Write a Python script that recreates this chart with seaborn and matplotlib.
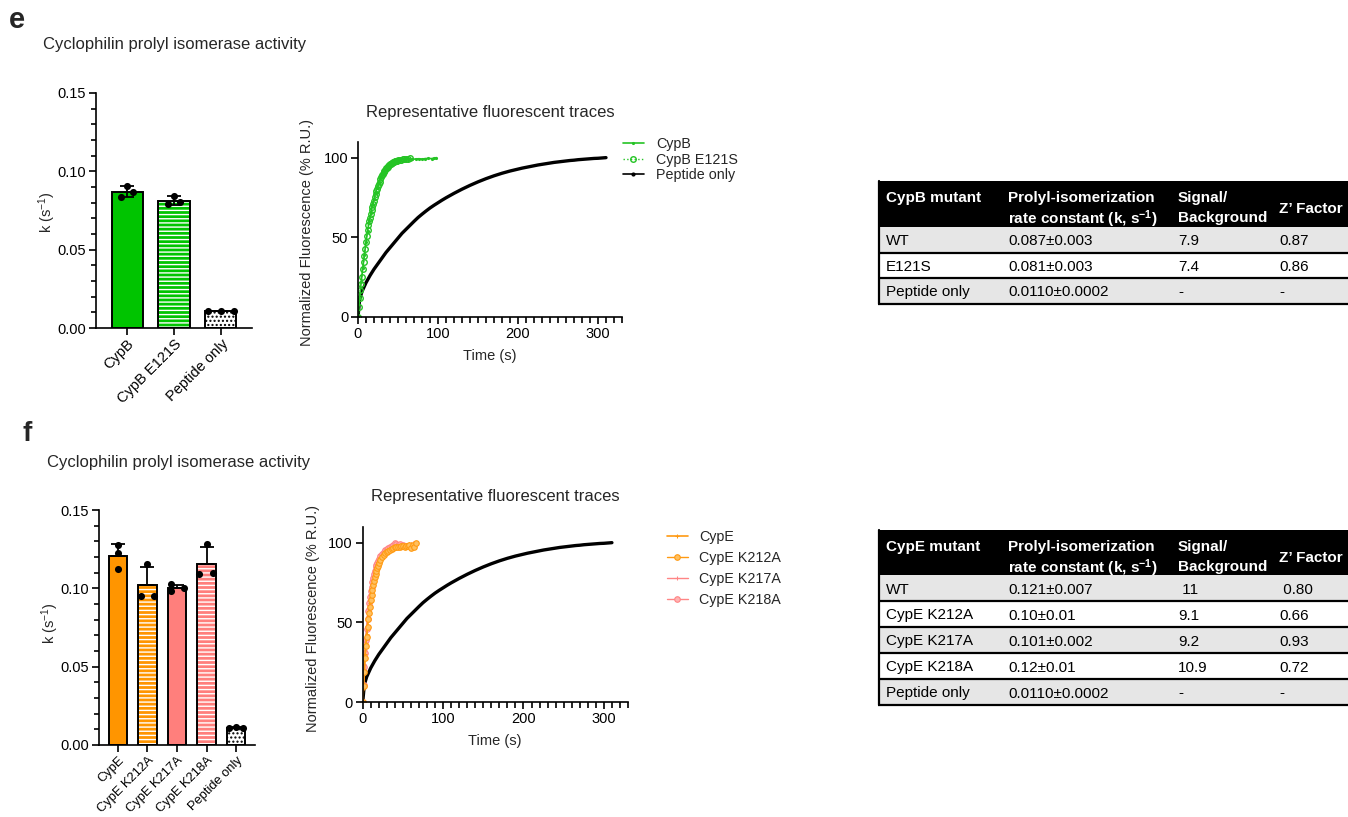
#cyclophilin activity figure, panels e and f
import numpy as np
import matplotlib
matplotlib.use('Agg')
import matplotlib.pyplot as plt
from matplotlib.ticker import MultipleLocator, FormatStrFormatter
from matplotlib.patches import Rectangle
import seaborn as sns

W, H = 1348, 817

# ---------------- data section ----------------
# panel e bars (k, s-1), three replicates each
e_cats = ['CypB', 'CypB E121S', 'Peptide only']
e_points = [[0.0838, 0.0906, 0.0866],
            [0.0791, 0.0843, 0.0804],
            [0.0108, 0.0111, 0.0110]]

# panel f bars
f_cats = ['CypE', 'CypE K212A', 'CypE K217A', 'CypE K218A', 'Peptide only']
f_points = [[0.1277, 0.1223, 0.1125],
            [0.0953, 0.1153, 0.0953],
            [0.1025, 0.0986, 0.0999],
            [0.1091, 0.1283, 0.1096],
            [0.0110, 0.0112, 0.0110]]

# fluorescent traces (time s, % R.U.)
pep_t = [0, 2, 5, 10, 15, 20, 25, 30, 35, 40,
         45, 50, 55, 60, 65, 70, 75, 80, 85, 90,
         95, 100, 105, 110, 115, 120, 125, 130, 135, 140,
         145, 150, 155, 160, 165, 170, 175, 180, 185, 190,
         195, 200, 205, 210, 215, 220, 225, 230, 235, 240,
         245, 250, 255, 260, 265, 270, 275, 280, 285, 290,
         295, 300, 305, 310]
pep_v = [0, 11, 16, 21.5, 26, 30, 33.5, 37, 40.5, 43.5,
         46.5, 49.5, 52.5, 55, 57.5, 60, 62.4, 64.5, 66.5, 68.4,
         70.1, 71.7, 73.3, 74.8, 76.2, 77.6, 78.9, 80.2, 81.4, 82.6,
         83.7, 84.8, 85.8, 86.8, 87.7, 88.6, 89.4, 90.2, 90.9, 91.6,
         92.2, 92.8, 93.4, 93.9, 94.4, 94.9, 95.4, 95.8, 96.2, 96.6,
         97, 97.3, 97.6, 97.9, 98.2, 98.4, 98.7, 98.9, 99.1, 99.3,
         99.5, 99.6, 99.8, 100]

cypb_t = [0, 2, 4, 6, 8, 10, 12, 14, 16, 18,
          20, 22, 24, 26, 28, 30, 33, 36, 40, 44,
          48, 52, 56, 60, 64, 68, 72, 76, 80, 84,
          88, 92, 95, 98]
cypb_v = [0, 12, 22, 31, 39, 47, 54, 60, 65, 70,
          74, 78, 81, 84, 87, 89, 91.5, 93.5, 95.5, 97,
          98, 98.6, 98.9, 99, 99.1, 98.9, 99.2, 99.3, 99.1, 99.4,
          99.5, 99.4, 99.7, 100]

e121s_t = [0, 1, 2, 3, 4, 5, 6, 7, 8, 9,
           10, 11, 12, 13, 14, 15, 16, 17, 18, 19,
           20, 21, 22, 23, 24, 25, 26, 27, 28, 29,
           30, 31, 32, 33, 34, 35, 36, 37, 38, 39,
           40, 41, 42, 43, 44, 45, 46, 47, 48, 49,
           50, 52, 54, 56, 58, 60, 62, 65]
e121s_v = [0, 6, 12, 17, 21, 25, 30, 34.5, 38.5, 42.5,
           47, 51, 54.5, 57.5, 60, 62, 64.5, 67, 69, 71,
           73, 75, 77, 79, 80.5, 82, 83.5, 85, 86.5, 87.8,
           89, 90, 91, 91.8, 92.5, 93.2, 93.8, 94.4, 94.9, 95.4,
           95.8, 96.2, 96.5, 96.8, 97.1, 97.4, 97.6, 97.8, 98, 98.2,
           98.3, 98.6, 98.8, 99, 99.1, 99.2, 99.3, 100]

cype_t = [0, 1, 2, 3, 4, 5, 6, 7, 8, 9,
          10, 11, 12, 13, 14, 15, 16, 17, 18, 19,
          20, 22, 24, 26, 28, 30, 33, 36, 39, 42,
          45, 48, 51, 54, 57, 60, 63, 66]
cype_v = [0, 9, 20, 30, 37, 43, 48, 53, 57.5, 62,
          66, 69.5, 73, 76, 78.5, 81, 83, 85, 86.5, 88,
          89.2, 91, 92.5, 93.7, 94.6, 95.3, 96.2, 96.8, 97.3, 97.7,
          98, 98.3, 98.5, 98.7, 98.9, 99.1, 99.4, 100]

k212a_t = [0, 1, 2, 3, 4, 5, 6, 7, 8, 9,
           10, 11, 12, 13, 14, 15, 16, 17, 18, 19,
           20, 22, 24, 26, 28, 30, 32, 34, 36, 38,
           40, 42, 44, 46, 48, 50, 52, 54, 56, 58,
           60, 62, 64, 66]
k212a_v = [0, 10, 19, 28, 35, 41, 47, 52, 56, 60,
           64, 67, 70.5, 73.5, 76, 78.5, 80.5, 82.5, 84, 85.5,
           87, 89, 91, 92.3, 93.5, 94.3, 95, 95.7, 96.2, 96.6,
           97, 97.2, 97.5, 97.3, 97.8, 98, 97.4, 98.2, 97.6, 98.5,
           96.8, 98.3, 97.5, 99.5]

k217a_t = [0, 1, 2, 3, 4, 5, 6, 7, 8, 9,
           10, 11, 12, 13, 14, 15, 16, 17, 18, 20,
           22, 24, 26, 28, 30, 33, 36, 39, 42, 45,
           48, 51, 54, 57, 60, 63]
k217a_v = [0, 12, 24, 33, 41, 48, 54, 59, 64, 68,
           71.5, 74.5, 77, 79.5, 81.5, 83.5, 85, 86.5, 88, 90,
           91.5, 92.8, 93.8, 94.6, 95.3, 96, 96.6, 97.1, 97.5, 97.8,
           98.1, 98.4, 98.6, 98.9, 99.2, 99.5]

k218a_t = [0, 1, 2, 3, 4, 5, 6, 7, 8, 9,
           10, 11, 12, 13, 14, 15, 16, 17, 18, 19,
           20, 22, 24, 26, 28, 30, 32, 34, 36, 38,
           40, 42, 44, 46, 48, 50]
k218a_v = [0, 11, 22, 31, 39, 46, 52, 57.5, 62, 66,
           69.5, 72.5, 75.5, 78, 80.5, 82.5, 84.5, 86, 87.5, 88.8,
           90, 91.8, 93.2, 94.3, 95.2, 96, 96.8, 97.5, 98.2, 98.8,
           99.8, 99, 98.5, 98.9, 98.2, 98.6]

# tables
e_head1 = ['CypB mutant', 'Prolyl-isomerization', 'Signal/', 'Z\u2019 Factor']
e_head2 = ['', 'rate constant (k, s$^{-1}$)', 'Background', '']
e_rows = [['WT', '0.087\u00b10.003', '7.9', '0.87'],
          ['E121S', '0.081\u00b10.003', '7.4', '0.86'],
          ['Peptide only', '0.0110\u00b10.0002', '-', '-']]

f_head1 = ['CypE mutant', 'Prolyl-isomerization', 'Signal/', 'Z\u2019 Factor']
f_head2 = ['', 'rate constant (k, s$^{-1}$)', 'Background', '']
f_rows = [['WT', '0.121\u00b10.007', ' 11', ' 0.80'],
          ['CypE K212A', '0.10\u00b10.01', '9.1', '0.66'],
          ['CypE K217A', '0.101\u00b10.002', '9.2', '0.93'],
          ['CypE K218A', '0.12\u00b10.01', '10.9', '0.72'],
          ['Peptide only', '0.0110\u00b10.0002', '-', '-']]

# ---------------- style / layout ----------------
GREEN = '#00c400'
ORANGE = '#ff9500'
SALMON = '#ff7f7c'
TR_GREEN = '#25c425'
TR_ORANGE = '#ff9a12'
TR_PINK = '#ff8585'

sns.set_style('ticks')
plt.rcParams['font.family'] = ['Liberation Sans', 'DejaVu Sans']
plt.rcParams['mathtext.default'] = 'regular'
plt.rcParams['hatch.linewidth'] = 1.0
plt.rcParams['axes.linewidth'] = 1.2
plt.rcParams['xtick.major.width'] = 1.2
plt.rcParams['ytick.major.width'] = 1.2
plt.rcParams['xtick.minor.width'] = 1.2
plt.rcParams['ytick.minor.width'] = 1.2
plt.rcParams['xtick.color'] = 'black'
plt.rcParams['ytick.color'] = 'black'
plt.rcParams['axes.edgecolor'] = 'black'


def box(x, y, w, h):
    # pixel box (top-left origin) -> figure fraction rect
    return [x / W, 1 - (y + h) / H, w / W, h / H]


def ftext(x, y, s, **kw):
    fig.text(x / W, 1 - y / H, s, **kw)


fig = plt.figure(figsize=(W / 100, H / 100), dpi=100)

# overlay axes in pixel coordinates for the tables
ov = fig.add_axes([0, 0, 1, 1])
ov.set_xlim(0, W)
ov.set_ylim(H, 0)
ov.axis('off')


def bar_panel(ax, cats, points, offsets, colors, hatches, width, both_err, xlim, lab_fs):
    means = [np.mean(p) for p in points]
    sds = [np.std(p, ddof=1) for p in points]
    sns.barplot(x=cats, y=means, hue=cats, palette=colors, legend=False,
                width=width, saturation=1, linewidth=0, errorbar=None, ax=ax)
    for patch, h, c in zip(ax.patches, hatches, colors):
        if h:
            patch.set_hatch(h)
            patch.set_edgecolor('black' if c == 'white' else 'white')
            patch.set_linewidth(0)
    sns.barplot(x=cats, y=means, fill=False, color='black', saturation=1,
                width=width, linewidth=1.4, errorbar=None, ax=ax)
    pos = np.arange(len(cats))
    lo = sds if both_err else [0] * len(sds)
    ax.errorbar(pos, means, yerr=[lo, sds], fmt='none', ecolor='black',
                elinewidth=1.3, capsize=5, capthick=1.3, zorder=3)
    xs = np.concatenate([i + np.array(o) for i, o in enumerate(offsets)])
    ys = np.concatenate(points)
    sns.scatterplot(x=xs, y=ys, color='black', s=26, linewidth=0,
                    zorder=4, ax=ax, legend=False)
    ax.set_xlim(*xlim)
    ax.set_ylim(0, 0.15)
    ax.yaxis.set_major_locator(MultipleLocator(0.05))
    ax.yaxis.set_minor_locator(MultipleLocator(0.01))
    ax.yaxis.set_major_formatter(FormatStrFormatter('%.2f'))
    ax.set_xticks(pos)
    ax.set_xticklabels(cats, rotation=45, ha='right', va='top',
                       rotation_mode='anchor', fontsize=lab_fs)
    ax.tick_params(axis='y', which='major', length=5, labelsize=10.5, pad=2)
    ax.tick_params(axis='y', which='minor', length=3.5)
    ax.tick_params(axis='x', which='major', length=5, pad=1.5)
    ax.set_xlabel('')
    ax.set_ylabel('')
    sns.despine(ax=ax)


def trace_axes(ax):
    ax.set_xlim(0, 330)
    ax.set_ylim(0, 110)
    ax.set_xticks([0, 100, 200, 300])
    ax.xaxis.set_minor_locator(MultipleLocator(10))
    ax.set_yticks([0, 50, 100])
    ax.tick_params(axis='both', which='major', length=5, labelsize=10.5, pad=2)
    ax.tick_params(axis='x', which='minor', length=4)
    ax.set_xlabel('')
    ax.set_ylabel('')
    sns.despine(ax=ax)


def draw_table(x0, top, head_h, row_bounds, cols, head1, head2, rows, hy):
    ov.add_patch(Rectangle((x0, top), W + 20 - x0, head_h, facecolor='black',
                           edgecolor='none'))
    for i in range(len(rows)):
        y0, y1 = row_bounds[i], row_bounds[i + 1]
        fc = '#e6e6e6' if i % 2 == 0 else 'white'
        ov.add_patch(Rectangle((x0, y0), W + 20 - x0, y1 - y0, facecolor=fc,
                               edgecolor='none'))
        ov.plot([x0, W + 20], [y1, y1], color='black', lw=1.6, solid_capstyle='butt')
        yc = (y0 + y1) / 2
        for cx, s in zip(cols, rows[i]):
            ov.text(cx, yc, s, fontsize=11, color='black', ha='left',
                    va='center_baseline')
    ov.plot([x0 + 0.8, x0 + 0.8], [top, row_bounds[-1]], color='black', lw=1.6)
    for j, (cx, s1, s2) in enumerate(zip(cols, head1, head2)):
        if s2:
            ov.text(cx, top + hy[0], s1, fontsize=11, fontweight='bold',
                    color='white', ha='left', va='center_baseline')
            ov.text(cx, top + hy[1], s2, fontsize=11, fontweight='bold',
                    color='white', ha='left', va='center_baseline')
        else:
            yy = top + (hy[0] if j == 0 else hy[2])
            ov.text(cx, yy, s1, fontsize=11, fontweight='bold', color='white',
                    ha='left', va='center_baseline')


# ---------------- panel e ----------------
ftext(9, 20, 'e', fontsize=21, fontweight='bold', ha='left', va='center')
ftext(43, 45, 'Cyclophilin prolyl isomerase activity', fontsize=12,
      ha='left', va='center')

ax_be = fig.add_axes(box(96, 93, 156, 235))
bar_panel(ax_be, e_cats, e_points,
          [[-0.13, 0, 0.13], [-0.13, 0, 0.13], [-0.28, 0, 0.28]],
          [GREEN, GREEN, 'white'], [None, '----', '....'],
          0.66, True, (-0.66, 2.66), 10.5)
ftext(47, 212, 'k (s$^{-1}$)', fontsize=10.5, rotation=90, ha='center', va='center')

ax_te = fig.add_axes(box(358, 141.7, 264, 175.3))
sns.lineplot(x=pep_t, y=pep_v, color='black', lw=2.4, ax=ax_te)
h_pep = ax_te.lines[-1]
sns.lineplot(x=cypb_t, y=cypb_v, color=TR_GREEN, lw=1.2, marker='.', markersize=3,
             markeredgecolor=TR_GREEN, ax=ax_te)
h_cypb = ax_te.lines[-1]
sns.lineplot(x=e121s_t, y=e121s_v, color=TR_GREEN, lw=1.0, linestyle=':',
             marker='o', markersize=4, markerfacecolor='none',
             markeredgecolor=TR_GREEN, markeredgewidth=1.0, ax=ax_te)
h_e121s = ax_te.lines[-1]
trace_axes(ax_te)
# legend handle for peptide shows the small dot marker as in the reference
h_pep_leg = plt.Line2D([], [], color='black', lw=1.2, marker='.', markersize=4)
ax_te.legend([h_cypb, h_e121s, h_pep_leg], ['CypB', 'CypB E121S', 'Peptide only'],
             loc='upper left', bbox_to_anchor=(623 / W, 1 - 137 / H),
             bbox_transform=fig.transFigure, frameon=False, fontsize=10.3,
             handlelength=1.44, handletextpad=0.86, labelspacing=0.12,
             borderpad=0, borderaxespad=0)
ftext(490, 113, 'Representative fluorescent traces', fontsize=12, ha='center', va='center')
ftext(307, 233, 'Normalized Fluorescence (% R.U.)', fontsize=10.5, rotation=90,
      ha='center', va='center')
ftext(490, 356, 'Time (s)', fontsize=10.5, ha='center', va='center')

draw_table(878, 181, 46, [227, 252.5, 278, 303.5], [886, 1008, 1178, 1279],
           e_head1, e_head2, e_rows, [15, 35, 26])

# ---------------- panel f ----------------
ftext(22, 434, 'f', fontsize=20, fontweight='bold', ha='left', va='center')
ftext(47, 462, 'Cyclophilin prolyl isomerase activity', fontsize=12,
      ha='left', va='center')

ax_bf = fig.add_axes(box(99, 510, 156, 235))
bar_panel(ax_bf, f_cats, f_points,
          [[0, 0, 0], [-0.23, 0, 0.23], [-0.21, -0.2, 0.25], [-0.25, 0, 0.23],
           [-0.23, 0, 0.23]],
          [ORANGE, ORANGE, SALMON, SALMON, 'white'],
          [None, '----', None, '----', '....'],
          0.62, False, (-0.64, 4.64), 9.3)
ftext(50, 623, 'k (s$^{-1}$)', fontsize=10.5, rotation=90, ha='center', va='center')

ax_tf = fig.add_axes(box(362.7, 526.7, 265.3, 175.6))
sns.lineplot(x=pep_t, y=pep_v, color='black', lw=2.4, ax=ax_tf)
sns.lineplot(x=k217a_t, y=k217a_v, color=TR_PINK, lw=1.0, marker='+', markersize=3,
             markeredgecolor=TR_PINK, ax=ax_tf)
h_217 = ax_tf.lines[-1]
sns.lineplot(x=k218a_t, y=k218a_v, color=TR_PINK, lw=1.0, marker='o', markersize=4,
             markerfacecolor='#ffb3b3', markeredgecolor=TR_PINK, markeredgewidth=0.8,
             ax=ax_tf)
h_218 = ax_tf.lines[-1]
sns.lineplot(x=cype_t, y=cype_v, color=TR_ORANGE, lw=1.2, marker='+', markersize=3,
             markeredgecolor=TR_ORANGE, ax=ax_tf)
h_cype = ax_tf.lines[-1]
sns.lineplot(x=k212a_t, y=k212a_v, color=TR_ORANGE, lw=1.0, marker='o', markersize=4,
             markerfacecolor='#ffc060', markeredgecolor=TR_ORANGE, markeredgewidth=0.8,
             ax=ax_tf)
h_212 = ax_tf.lines[-1]
trace_axes(ax_tf)
ax_tf.legend([h_cype, h_212, h_217, h_218],
             ['CypE', 'CypE K212A', 'CypE K217A', 'CypE K218A'],
             loc='upper left', bbox_to_anchor=(667 / W, 1 - 530 / H),
             bbox_transform=fig.transFigure, frameon=False, fontsize=10.3,
             handlelength=1.44, handletextpad=0.8, labelspacing=0.5,
             borderpad=0, borderaxespad=0)
ftext(495, 497, 'Representative fluorescent traces', fontsize=12, ha='center', va='center')
ftext(313, 618, 'Normalized Fluorescence (% R.U.)', fontsize=10.5, rotation=90,
      ha='center', va='center')
ftext(495, 741, 'Time (s)', fontsize=10.5, ha='center', va='center')

draw_table(878, 530, 45, [575, 601, 627, 653, 679, 705], [886, 1008, 1178, 1279],
           f_head1, f_head2, f_rows, [16, 35, 26])

fig.savefig('out.png', dpi=100)
